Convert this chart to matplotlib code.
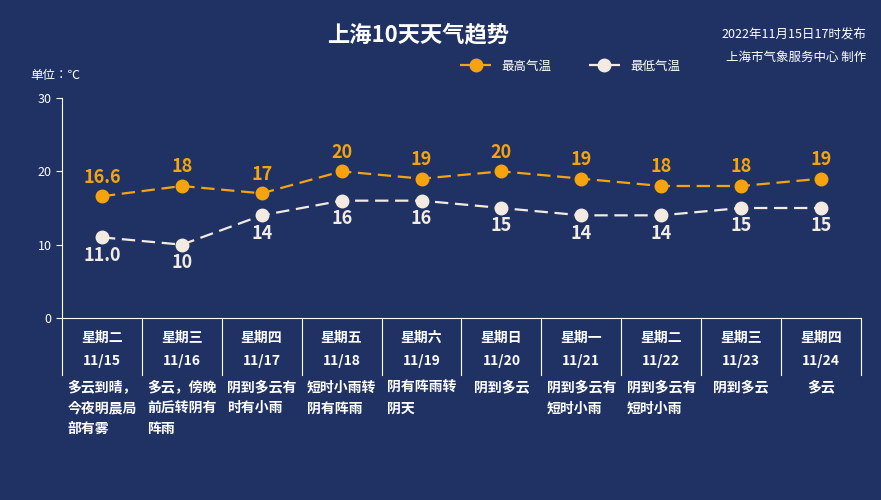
import matplotlib
matplotlib.use("Agg")
import matplotlib.pyplot as plt
from matplotlib import font_manager

# pick whatever CJK family is actually registered
cjk = [f.name for f in font_manager.fontManager.ttflist if "CJK" in f.name]
cjk_name = "Noto Sans CJK SC" if "Noto Sans CJK SC" in cjk else (cjk[0] if cjk else "DejaVu Sans")
plt.rcParams["font.family"] = "sans-serif"
plt.rcParams["font.sans-serif"] = [cjk_name, "DejaVu Sans"]

BG = "#1f3263"
HIGH_C = "#f5a410"
LOW_C = "#f3ebe1"

weekdays = ["星期二", "星期三", "星期四", "星期五", "星期六", "星期日", "星期一", "星期二", "星期三", "星期四"]
dates = ["11/15", "11/16", "11/17", "11/18", "11/19", "11/20", "11/21", "11/22", "11/23", "11/24"]
high = [16.6, 18, 17, 20, 19, 20, 19, 18, 18, 19]
low = [11.0, 10, 14, 16, 16, 15, 14, 14, 15, 15]
high_labels = ["16.6", "18", "17", "20", "19", "20", "19", "18", "18", "19"]
low_labels = ["11.0", "10", "14", "16", "16", "15", "14", "14", "15", "15"]
weather = ["多云到晴，\n今夜明晨局\n部有雾", "多云，傍晚\n前后转阴有\n阵雨", "阴到多云有\n时有小雨",
           "短时小雨转\n阴有阵雨", "阴有阵雨转\n阴天", "阴到多云", "阴到多云有\n短时小雨",
           "阴到多云有\n短时小雨", "阴到多云", "多云"]

fig = plt.figure(figsize=(8.81, 5.0), dpi=100, facecolor=BG)
ax = fig.add_axes([62 / 881, 1 - 318 / 500, 799 / 881, 220 / 500], facecolor=BG)
n = len(dates)
x = list(range(n))
ax.set_xlim(-0.5, n - 0.5)
ax.set_ylim(0, 30)
ax.set_yticks([0, 10, 20, 30])
ax.tick_params(axis="y", colors="white", labelsize=9, length=4)
ax.set_xticks([])
for s in ["top", "right"]:
    ax.spines[s].set_visible(False)
ax.spines["left"].set_color("white")
ax.spines["bottom"].set_color("white")

ax.plot(x, high, color=HIGH_C, ls=(0, (6, 3)), lw=1.6, marker="o", ms=9, label="最高气温", clip_on=False)
ax.plot(x, low, color=LOW_C, ls=(0, (6, 3)), lw=1.6, marker="o", ms=9, label="最低气温", clip_on=False)
for i in x:
    ax.annotate(high_labels[i], (i, high[i]), xytext=(0, 7), textcoords="offset points",
                ha="center", va="bottom", color=HIGH_C, fontsize=13, fontweight="bold")
    ax.annotate(low_labels[i], (i, low[i]), xytext=(0, -6), textcoords="offset points",
                ha="center", va="top", color=LOW_C, fontsize=13, fontweight="bold")

# category boxes below the axis
tr = ax.get_xaxis_transform()
for i in range(n + 1):
    ax.plot([i - 0.5, i - 0.5], [0, -0.26], color="white", lw=0.8, transform=tr, clip_on=False)
for i in x:
    ax.text(i, -0.09, weekdays[i], transform=tr, ha="center", va="center", color="white",
            fontsize=10, fontweight="bold")
    ax.text(i, -0.195, dates[i], transform=tr, ha="center", va="center", color="white",
            fontsize=10, fontweight="bold")
    ax.text(i, -0.285, weather[i], transform=tr, ha="center", va="top", color="white",
            fontsize=10, fontweight="bold", multialignment="left", linespacing=1.6)

fig.text(418 / 881, 1 - 35 / 500, "上海10天天气趋势", ha="center", va="center",
         color="white", fontsize=16, fontweight="bold")
fig.text(866 / 881, 1 - 35 / 500, "2022年11月15日17时发布", ha="right", va="center", color="white", fontsize=9)
fig.text(866 / 881, 1 - 57 / 500, "上海市气象服务中心 制作", ha="right", va="center", color="white", fontsize=9)
fig.text(30 / 881, 1 - 75 / 500, "单位：℃", ha="left", va="center", color="white", fontsize=9)
fig.legend(loc="center", bbox_to_anchor=(570 / 881, 1 - 66 / 500), ncol=2, frameon=False,
           labelcolor="white", fontsize=9, handlelength=2.5, columnspacing=3)

fig.savefig("out.png", dpi=100, facecolor=BG)
